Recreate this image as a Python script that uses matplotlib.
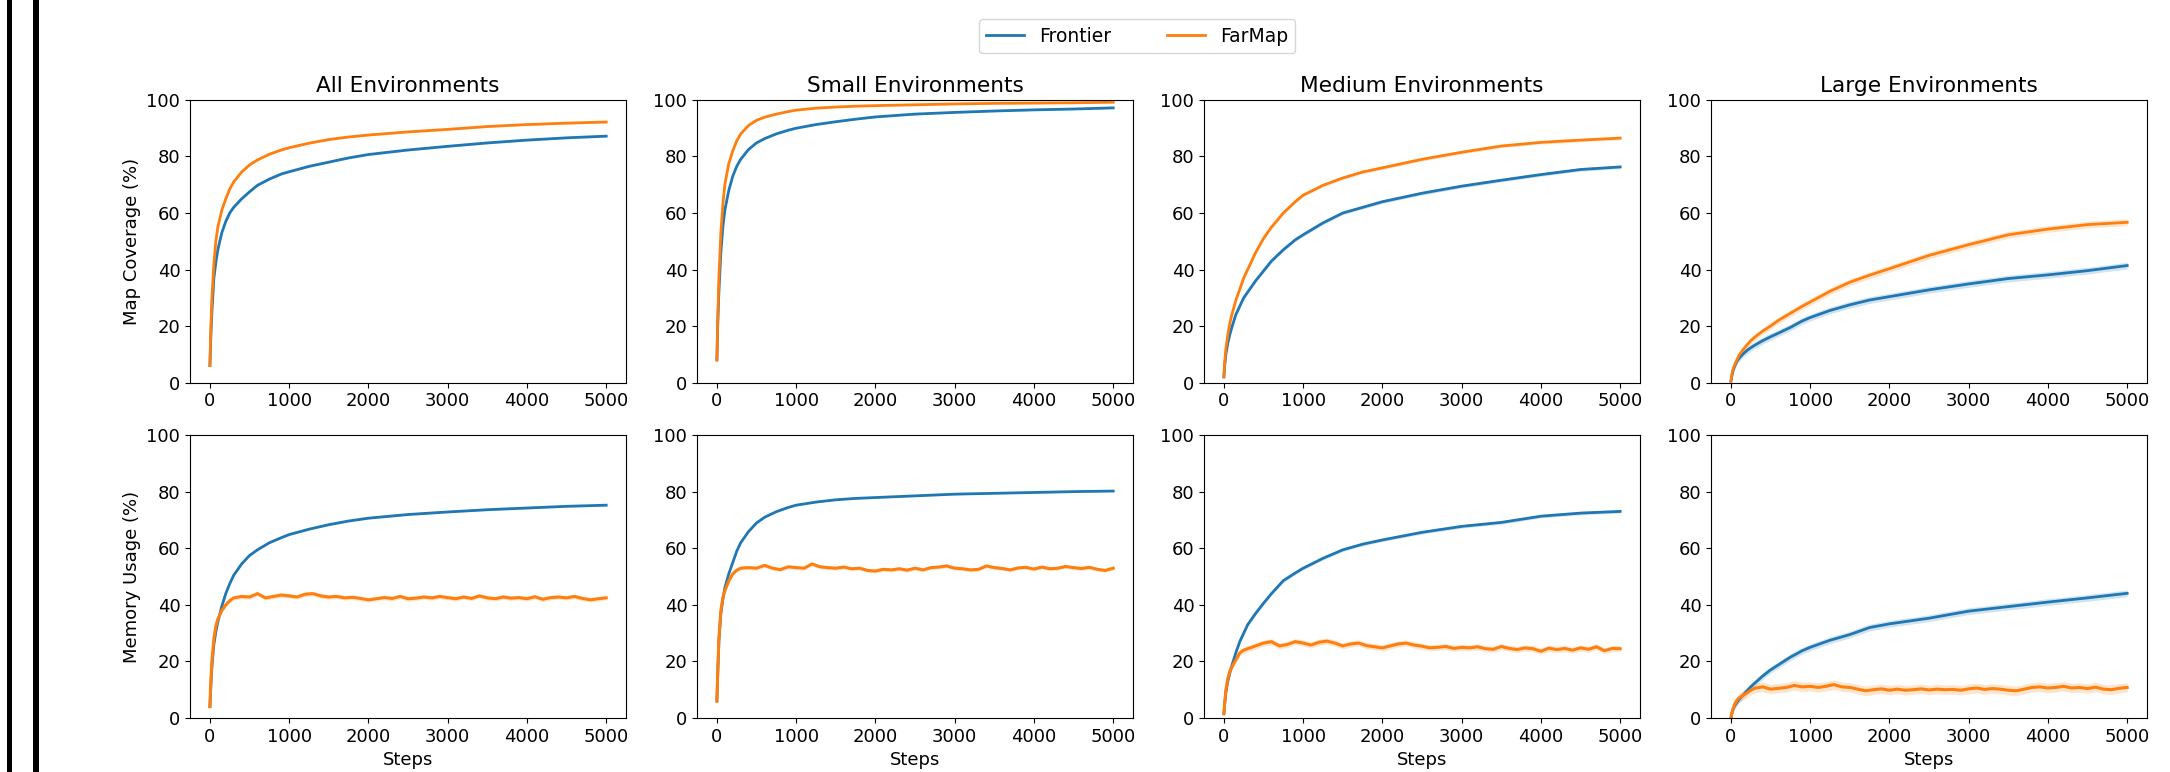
import numpy as np
import matplotlib
matplotlib.use('Agg')
import matplotlib.pyplot as plt
from matplotlib.patches import Rectangle

# step grid for the smooth curves
steps = [0, 10, 25, 50, 75, 100, 150, 200, 250, 300, 400, 500, 600, 750, 900, 1000,
         1250, 1500, 1750, 2000, 2500, 3000, 3500, 4000, 4500, 5000]

# map coverage (%)
cov_frontier = {
    'All': [6, 15, 25, 37, 42.5, 47, 53, 57, 60, 62, 65, 67.5, 69.8, 72, 73.8, 74.6,
            76.5, 78, 79.5, 80.7, 82.3, 83.6, 84.8, 85.8, 86.6, 87.2],
    'Small': [8, 20, 32, 46, 55, 61, 68, 73, 76.5, 79, 82.5, 84.8, 86.3, 88, 89.3, 90,
              91.3, 92.3, 93.2, 94, 95, 95.6, 96.1, 96.5, 96.8, 97.2],
    'Medium': [2, 6, 10, 14, 17, 19.5, 24, 27, 30, 32, 36, 39.5, 43, 47, 50.5, 52.3,
               56.5, 60, 62, 64, 67, 69.5, 71.6, 73.6, 75.4, 76.3],
    'Large': [0.5, 2, 4, 6, 7.5, 8.5, 10, 11.3, 12.3, 13.2, 14.8, 16.2, 17.5, 19.5, 21.8, 23,
              25.5, 27.5, 29.2, 30.4, 32.8, 34.9, 36.8, 38.1, 39.6, 41.4],
}
cov_farmap = {
    'All': [6, 18, 30, 42, 50, 55, 61, 65, 68.5, 71, 74.5, 77, 78.8, 80.8, 82.3, 83.1,
            84.7, 86, 86.9, 87.6, 88.7, 89.6, 90.6, 91.3, 91.8, 92.2],
    'Small': [8, 22, 37, 53, 63, 70, 77.5, 82, 85.5, 88, 91, 92.8, 93.9, 95, 95.9, 96.4,
              97.1, 97.5, 97.8, 98, 98.3, 98.6, 98.8, 98.9, 99, 99.2],
    'Medium': [2, 7, 12, 17, 21, 24, 29, 33, 37, 40, 46, 51, 55, 60, 64, 66.3,
               69.8, 72.4, 74.5, 76, 79, 81.5, 83.7, 85, 85.8, 86.5],
    'Large': [0.5, 2.5, 4.5, 6.5, 8, 9.5, 11.5, 13.2, 14.8, 16, 18.2, 20, 22, 24.5, 27, 28.5,
              32.3, 35.5, 38, 40.3, 45, 48.8, 52.3, 54.3, 55.9, 56.7],
}

# memory usage (%)
mem_frontier = {
    'All': [4, 10, 18, 26, 30.5, 34, 39.5, 44, 47.5, 50.5, 54.5, 57.5, 59.5, 62, 63.8, 64.9,
            66.8, 68.4, 69.7, 70.7, 72, 72.9, 73.7, 74.3, 74.9, 75.3],
    'Small': [6, 15, 27, 37, 42, 46, 51, 55, 59, 62, 66, 69, 71, 73, 74.5, 75.3,
              76.4, 77.2, 77.7, 78, 78.6, 79.2, 79.5, 79.8, 80.1, 80.3],
    'Medium': [1.5, 5, 9, 13, 16, 18.5, 23, 27, 30, 33, 37, 40.6, 44, 48.6, 51.3, 53,
               56.5, 59.5, 61.5, 63, 65.7, 67.8, 69.2, 71.4, 72.5, 73.1],
    'Large': [0, 1.5, 3, 4.5, 5.5, 6.5, 8, 9.5, 11, 12.3, 14.8, 17, 18.8, 21.5, 23.8, 25,
              27.5, 29.5, 32, 33.3, 35.3, 37.8, 39.4, 41, 42.5, 44.1],
}

# finer grid for the wiggly FarMap memory curves
mem_steps = [0, 10, 25, 50, 75, 100, 150, 200, 250] + list(range(300, 5001, 100))
mem_farmap = {
    'All': [4, 12, 20, 28, 32.5, 35, 38, 40, 41.5,
            42.5, 43, 42.8, 44, 42.5, 43, 43.5, 43.2, 42.8, 43.8, 44, 43.2, 42.8, 43, 42.5, 42.7,
            42.3, 41.8, 42.2, 42.6, 42.3, 43, 42.2, 42.4, 42.8, 42.5, 43, 42.6, 42.2, 42.8, 42.3,
            43.2, 42.5, 42.2, 42.8, 42.4, 42.6, 42.2, 42.9, 42, 42.6, 42.8, 42.5, 43, 42.3, 41.8,
            42.2, 42.5],
    'Small': [6, 16, 28, 38, 42.5, 45, 48.5, 51, 52.3,
              53, 53.2, 53, 54, 53, 52.5, 53.5, 53.2, 53, 54.5, 53.5, 53.2, 53, 53.4, 52.8, 53,
              52.2, 52, 52.6, 52.4, 52.8, 52.3, 53, 52.4, 53.2, 53.4, 53.8, 53, 52.8, 52.4, 52.6,
              53.8, 53.2, 52.9, 52.4, 53.1, 53.3, 52.7, 53.4, 52.8, 53, 53.6, 53.2, 52.9, 53.3, 52.6,
              52.2, 53],
    'Medium': [1.5, 5, 10, 14, 16.5, 18, 20.5, 23, 24,
               24.5, 25.5, 26.5, 27, 25.5, 26, 27, 26.5, 25.8, 26.8, 27.2, 26.5, 25.5, 26.2, 26.5, 25.6,
               25.2, 24.8, 25.5, 26.2, 26.5, 25.8, 25.4, 24.8, 25, 25.3, 24.6, 25, 24.8, 25.2, 24.5,
               24.3, 25.3, 24.6, 24.2, 24.8, 24.5, 23.6, 24.7, 24.2, 24.6, 24, 24.8, 24.3, 25.2, 23.8,
               24.6, 24.5],
    'Large': [0, 1.5, 3, 5, 6.2, 7, 8, 8.8, 9.8,
              10.5, 11, 10.2, 10.5, 10.8, 11.5, 11, 11.2, 10.8, 11.2, 11.8, 11, 10.8, 10.2, 9.6, 10,
              10.3, 9.8, 10.2, 9.8, 10, 10.3, 9.9, 10.2, 10, 10.1, 9.8, 10.3, 10.6, 10.1, 10.4,
              10.2, 9.8, 9.6, 10.2, 10.8, 11, 10.6, 10.8, 11.2, 10.6, 10.8, 10.4, 10.9, 10.2, 10,
              10.5, 10.8],
}

# half width of the confidence band per environment
ci_half = {'All': 0.3, 'Small': 0.2, 'Medium': 0.6, 'Large': 1.2}

envs = ['All', 'Small', 'Medium', 'Large']
titles = ['All Environments', 'Small Environments', 'Medium Environments', 'Large Environments']

blue = '#1f77b4'
orange = '#ff7f0e'
fs = 13

fig, axes = plt.subplots(2, 4, figsize=(21.7, 7.72), dpi=100)
fig.subplots_adjust(left=0.0876, right=0.9894, top=0.8705, bottom=0.070,
                    wspace=0.163, hspace=0.187)


def draw(ax, x, y, ci, color, label=None, lw=2):
    x = np.asarray(x, dtype=float)
    y = np.asarray(y, dtype=float)
    ax.fill_between(x, y - ci, y + ci, color=color, alpha=0.2, lw=0)
    return ax.plot(x, y, color=color, lw=lw, label=label)[0]


for j, env in enumerate(envs):
    ax = axes[0, j]
    h1 = draw(ax, steps, cov_frontier[env], ci_half[env], blue, 'Frontier')
    h2 = draw(ax, steps, cov_farmap[env], ci_half[env], orange, 'FarMap')
    ax.set_title(titles[j], fontsize=15.6)

    ax = axes[1, j]
    draw(ax, steps, mem_frontier[env], ci_half[env], blue)
    draw(ax, mem_steps, mem_farmap[env], ci_half[env] + 0.5, orange, lw=2.2)
    ax.set_xlabel('Steps', fontsize=fs)

for ax in axes.flat:
    ax.set_ylim(0, 100)
    ax.set_xticks([0, 1000, 2000, 3000, 4000, 5000])
    ax.tick_params(labelsize=fs)

axes[0, 0].set_ylabel('Map Coverage (%)', fontsize=fs)
axes[1, 0].set_ylabel('Memory Usage (%)', fontsize=fs)

fig.legend([h1, h2], ['Frontier', 'FarMap'], loc='center', ncol=2,
           bbox_to_anchor=(0.524, 0.953), fontsize=13.5, columnspacing=3.0)

# the two black bars on the left edge
fig.add_artist(Rectangle((7 / 2170, 0), 5 / 2170, 1, transform=fig.transFigure,
                         color='black', lw=0))
fig.add_artist(Rectangle((33 / 2170, 0), 6 / 2170, 1, transform=fig.transFigure,
                         color='black', lw=0))

fig.savefig('out.png', dpi=100)
plt.close()
